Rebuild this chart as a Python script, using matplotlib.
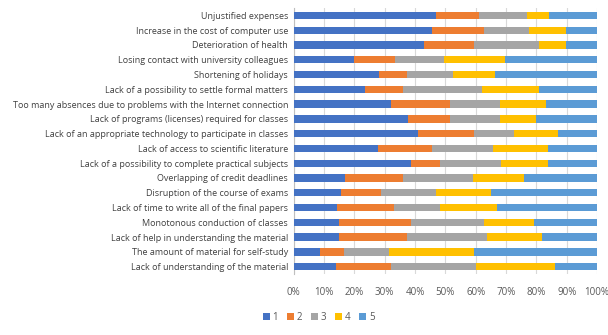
import matplotlib.pyplot as plt
import numpy as np

plt.rcParams['font.family'] = ['Open Sans', 'DejaVu Sans']

# categories, top to bottom
categories = [
    "Unjustified expenses",
    "Increase in the cost of computer use",
    "Deterioration of health",
    "Losing contact with university colleagues",
    "Shortening of holidays",
    "Lack of a possibility to settle formal matters",
    "Too many absences due to problems with the Internet connection",
    "Lack of programs (licenses) required for classes",
    "Lack of an appropriate technology to participate in classes",
    "Lack of access to scientific literature",
    "Lack of a possibility to complete practical subjects",
    "Overlapping of credit deadlines",
    "Disruption of the course of exams",
    "Lack of time to write all of the final papers",
    "Monotonous conduction of classes",
    "Lack of help in understanding the material",
    "The amount of material for self-study",
    "Lack of understanding of the material",
]

# share of answers (%) for ratings 1..5
s1 = [46.8, 45.5, 42.9, 19.8, 28.1, 23.5, 32.0, 37.6, 40.9, 27.7, 38.6, 16.9, 15.6, 14.3, 14.9, 14.9, 8.7, 13.9]
s2 = [14.2, 17.1, 16.4, 13.5, 9.2, 12.5, 19.4, 13.8, 18.4, 17.8, 9.5, 19.1, 13.1, 18.7, 23.7, 22.4, 7.9, 18.1]
s3 = [15.8, 15.1, 21.7, 16.2, 15.1, 26.0, 16.5, 16.5, 13.2, 20.1, 20.1, 23.0, 18.1, 15.1, 24.0, 26.3, 14.8, 28.0]
s4 = [7.5, 12.2, 8.6, 20.0, 13.8, 19.0, 15.4, 12.1, 14.5, 18.1, 15.5, 16.8, 18.4, 18.8, 16.5, 18.1, 27.9, 26.3]
s5 = [15.7, 10.1, 10.4, 30.5, 33.8, 19.0, 16.7, 20.0, 13.0, 16.3, 16.3, 24.2, 34.8, 33.1, 20.9, 18.3, 40.7, 13.7]

series = [s1, s2, s3, s4, s5]
labels = ["1", "2", "3", "4", "5"]
colors = ["#4472C4", "#ED7D31", "#A5A5A5", "#FFC000", "#5B9BD5"]

fig = plt.figure(figsize=(6.08, 3.35), dpi=100)
ax = fig.add_axes([0.483, 0.182, 0.499, 0.794])

data = np.array(series)
data = data / data.sum(axis=0) * 100
y = np.arange(len(categories))
left = np.zeros(len(categories))
for vals, lab, col in zip(data, labels, colors):
    ax.barh(y, vals, left=left, height=0.5, color=col, label=lab, zorder=3)
    left += vals

ax.set_ylim(len(categories) - 0.5, -0.5)
ax.set_xlim(0, 100)
ax.set_yticks(y)
ax.set_yticklabels(categories, fontsize=6.45, color="#404040")
ax.set_xticks(np.arange(0, 101, 10))
ax.set_xticklabels([f"{v}%" for v in range(0, 101, 10)], fontsize=7, color="#595959")
ax.tick_params(axis='both', length=0, pad=4)
ax.tick_params(axis='x', pad=9)
ax.grid(axis='x', color="#D9D9D9", linewidth=0.8, zorder=0)
for side in ['top', 'right', 'bottom']:
    ax.spines[side].set_visible(False)
ax.spines['left'].set_color("#BFBFBF")

fig.legend(loc='lower left', bbox_to_anchor=(0.418, 0.01), ncol=5, frameon=False,
           fontsize=7, handlelength=0.7, handleheight=0.7, handletextpad=0.3,
           columnspacing=0.9, labelcolor="#595959")

fig.savefig("out.png", dpi=100)
